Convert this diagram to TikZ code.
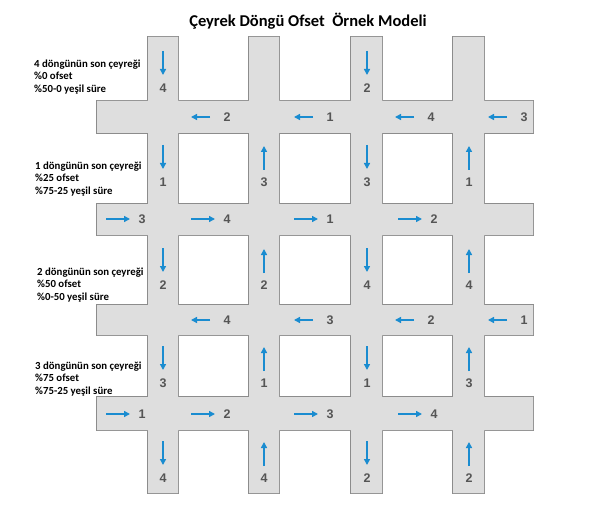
\documentclass[tikz,border=0pt]{standalone}
\usepackage{fontspec}
\setmainfont{Carlito}
\newfontfamily\numfont{Liberation Sans}
\usetikzlibrary{arrows.meta}
\definecolor{roadgray}{RGB}{222,222,222}
\definecolor{edgegray}{RGB}{140,140,140}
\definecolor{flowblue}{RGB}{26,140,208}
\definecolor{numgray}{RGB}{85,85,85}

\begin{document}
\begin{tikzpicture}[x=1pt,y=-1pt,
  num/.style={text=numgray,font=\numfont\bfseries\fontsize{12.5}{12.5}\selectfont,inner sep=0pt},
  flow/.style={draw=flowblue,line width=1.7pt,-{Triangle[length=6pt,width=6pt]}},
  note/.style={anchor=west,align=left,inner sep=0pt,font=\bfseries\fontsize{10.8}{12.3}\selectfont},
  road/.style={fill=roadgray,preaction={draw=edgegray,line width=2pt}}
]
  \useasboundingbox (0,0) rectangle (600,508);
  \node[font=\bfseries\fontsize{16.5}{19}\selectfont] (title) at (308,21) {Çeyrek Döngü Ofset\ \ Örnek Modeli};

  \path[road] (97,101) rectangle (533,133) (97,204) rectangle (533,235)
    (97,305) rectangle (533,335) (97,397) rectangle (533,430)
    (148,37) rectangle (178,493) (249,37) rectangle (279,493)
    (351,37) rectangle (382,493) (453,37) rectangle (484,493);

  \node[note] (n4) at (34,77) {4 döngünün son çeyreği\\\%0 ofset\\\%50-0 yeşil süre};
  \node[note] (n1) at (35,179) {1 döngünün son çeyreği\\\%25 ofset\\\%75-25 yeşil süre};
  \node[note] (n2) at (37,285) {2 döngünün son çeyreği\\\%50 ofset\\\%0-50 yeşil süre};
  \node[note] (n3) at (35,379) {3 döngünün son çeyreği\\\%75 ofset\\\%75-25 yeşil süre};

  \node[num] (v1t) at (163,88) {4};
  \node[num] (v1a) at (163,182) {1};
  \node[num] (v1b) at (163,285) {2};
  \node[num] (v1c) at (163,383) {3};
  \node[num] (v1d) at (163,478) {4};
  \node[num] (v2a) at (264,182) {3};
  \node[num] (v2b) at (264,285) {2};
  \node[num] (v2c) at (264,383) {1};
  \node[num] (v2d) at (264,478) {4};
  \node[num] (v3t) at (367,88) {2};
  \node[num] (v3a) at (367,182) {3};
  \node[num] (v3b) at (367,285) {4};
  \node[num] (v3c) at (367,383) {1};
  \node[num] (v3d) at (367,478) {2};
  \node[num] (v4a) at (469,182) {1};
  \node[num] (v4b) at (469,285) {4};
  \node[num] (v4c) at (469,383) {3};
  \node[num] (v4d) at (469,478) {2};

  \draw[flow] ([yshift=37pt]v1t.center) -- ([yshift=13pt]v1t.center);
  \draw[flow] ([yshift=37pt]v1a.center) -- ([yshift=13pt]v1a.center);
  \draw[flow] ([yshift=37pt]v1b.center) -- ([yshift=13pt]v1b.center);
  \draw[flow] ([yshift=37pt]v1c.center) -- ([yshift=13pt]v1c.center);
  \draw[flow] ([yshift=37pt]v1d.center) -- ([yshift=13pt]v1d.center);
  \draw[flow] ([yshift=12pt]v2a.center) -- ([yshift=36pt]v2a.center);
  \draw[flow] ([yshift=12pt]v2b.center) -- ([yshift=36pt]v2b.center);
  \draw[flow] ([yshift=12pt]v2c.center) -- ([yshift=36pt]v2c.center);
  \draw[flow] ([yshift=12pt]v2d.center) -- ([yshift=36pt]v2d.center);
  \draw[flow] ([yshift=37pt]v3t.center) -- ([yshift=13pt]v3t.center);
  \draw[flow] ([yshift=37pt]v3a.center) -- ([yshift=13pt]v3a.center);
  \draw[flow] ([yshift=37pt]v3b.center) -- ([yshift=13pt]v3b.center);
  \draw[flow] ([yshift=37pt]v3c.center) -- ([yshift=13pt]v3c.center);
  \draw[flow] ([yshift=37pt]v3d.center) -- ([yshift=13pt]v3d.center);
  \draw[flow] ([yshift=12pt]v4a.center) -- ([yshift=36pt]v4a.center);
  \draw[flow] ([yshift=12pt]v4b.center) -- ([yshift=36pt]v4b.center);
  \draw[flow] ([yshift=12pt]v4c.center) -- ([yshift=36pt]v4c.center);
  \draw[flow] ([yshift=12pt]v4d.center) -- ([yshift=36pt]v4d.center);

  \node[num] (h1a) at (227,117) {2};
  \node[num] (h1b) at (330,117) {1};
  \node[num] (h1c) at (431,117) {4};
  \node[num] (h1d) at (524,117) {3};
  \node[num] (h2a) at (142,219) {3};
  \node[num] (h2b) at (227,219) {4};
  \node[num] (h2c) at (330,219) {1};
  \node[num] (h2d) at (434,219) {2};
  \node[num] (h3a) at (227,320) {4};
  \node[num] (h3b) at (330,320) {3};
  \node[num] (h3c) at (431,320) {2};
  \node[num] (h3d) at (524,320) {1};
  \node[num] (h4a) at (142,414) {1};
  \node[num] (h4b) at (227,414) {2};
  \node[num] (h4c) at (330,414) {3};
  \node[num] (h4d) at (434,414) {4};

  \draw[flow] ([xshift=-17pt]h1a.center) -- ([xshift=-36pt]h1a.center);
  \draw[flow] ([xshift=-17pt]h1b.center) -- ([xshift=-36pt]h1b.center);
  \draw[flow] ([xshift=-17pt]h1c.center) -- ([xshift=-36pt]h1c.center);
  \draw[flow] ([xshift=-17pt]h1d.center) -- ([xshift=-36pt]h1d.center);
  \draw[flow] ([xshift=-36pt]h2a.center) -- ([xshift=-12pt]h2a.center);
  \draw[flow] ([xshift=-36pt]h2b.center) -- ([xshift=-12pt]h2b.center);
  \draw[flow] ([xshift=-36pt]h2c.center) -- ([xshift=-12pt]h2c.center);
  \draw[flow] ([xshift=-36pt]h2d.center) -- ([xshift=-12pt]h2d.center);
  \draw[flow] ([xshift=-17pt]h3a.center) -- ([xshift=-36pt]h3a.center);
  \draw[flow] ([xshift=-17pt]h3b.center) -- ([xshift=-36pt]h3b.center);
  \draw[flow] ([xshift=-17pt]h3c.center) -- ([xshift=-36pt]h3c.center);
  \draw[flow] ([xshift=-17pt]h3d.center) -- ([xshift=-36pt]h3d.center);
  \draw[flow] ([xshift=-36pt]h4a.center) -- ([xshift=-12pt]h4a.center);
  \draw[flow] ([xshift=-36pt]h4b.center) -- ([xshift=-12pt]h4b.center);
  \draw[flow] ([xshift=-36pt]h4c.center) -- ([xshift=-12pt]h4c.center);
  \draw[flow] ([xshift=-36pt]h4d.center) -- ([xshift=-12pt]h4d.center);
\end{tikzpicture}
\end{document}
